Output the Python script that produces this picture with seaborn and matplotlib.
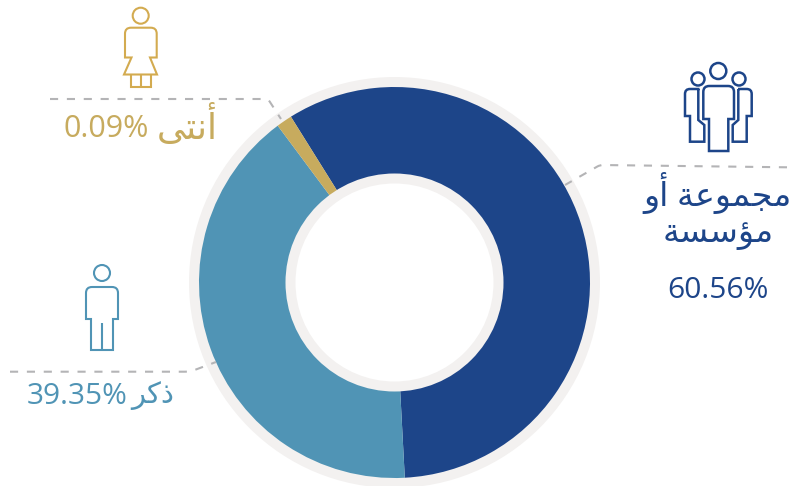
# Import necessary libraries
import matplotlib
matplotlib.use('Agg')
import matplotlib.pyplot as plt
import seaborn as sns
from matplotlib.patches import Circle, PathPatch
from matplotlib.path import Path

# Slice sizes as drawn in the picture (they differ from the printed labels)
categories = ['group', 'male', 'female']
drawn_shares = [58.05, 40.65, 1.3]
printed_labels = ['60.56%', '39.35%', '0.09%']

# Arabic labels in shaped presentation forms, visual order (matplotlib has no shaping)
label_group_1 = '\uFEED\uFE83 \uFE94\uFECB\uFEEE\uFEE4\uFEA0\uFEE3'  # majmoua aw
label_group_2 = '\uFE94\uFEB4\uFEB3\uFE86\uFEE3'  # muassasa
label_male = '\uFEAE\uFEDB\uFEAB'  # dhakar
label_female = '\uFEF0\uFE98\uFEE7\uFE83'  # untha

DARK = '#1d4589'
BLUE = '#5094b5'
GOLD = '#c7ab5e'
ICON_GOLD = '#d3ab50'
RING = '#f3f1f0'
DASH = '#b4b4b6'
HEIGHT = 486

sns.set_theme(style='white')
plt.rcParams['font.family'] = ['Open Sans', 'DejaVu Sans']


# Function to build a stroke path from pixel points, (x, y, r) rounds that corner
def stroke(ax, points, color, lw=1.5, closed=False, dashes=None):
    verts, codes = [], []
    n = len(points)
    for i, p in enumerate(points):
        x, y = p[0], HEIGHT - p[1]
        r = p[2] if len(p) > 2 else 0
        if r == 0 or i == 0 or i == n - 1:
            verts.append((x, y))
            codes.append(Path.MOVETO if i == 0 else Path.LINETO)
            continue
        for q, first in ((points[i - 1], True), (points[i + 1], False)):
            dx, dy = q[0] - x, HEIGHT - q[1] - y
            d = (dx * dx + dy * dy) ** 0.5
            end = (x + dx / d * r, y + dy / d * r)
            if first:
                verts.append(end)
                codes.append(Path.LINETO)
                verts.append((x, y))
                codes.append(Path.CURVE3)
            else:
                verts.append(end)
                codes.append(Path.CURVE3)
    if closed:
        verts.append(verts[0])
        codes.append(Path.CLOSEPOLY)
    patch = PathPatch(Path(verts, codes), fill=False, edgecolor=color, linewidth=lw,
                      joinstyle='miter', capstyle='butt')
    if dashes:
        patch.set_linestyle((0, dashes))
    ax.add_patch(patch)


# Function to draw a head circle
def head(ax, x, y, r, color, lw=1.5):
    ax.add_patch(Circle((x, HEIGHT - y), r, fill=False, edgecolor=color, linewidth=lw))


# Function for the three person icons
def draw_icons(ax):
    # male
    head(ax, 102, 273, 8, BLUE)
    stroke(ax, [(91, 350), (91, 319), (86, 319), (86, 287, 6), (118, 287, 6), (118, 319),
                (113, 319), (113, 350)], BLUE, closed=True)
    stroke(ax, [(102, 323), (102, 350)], BLUE)

    # female
    head(ax, 140.7, 15.7, 8, ICON_GOLD)
    stroke(ax, [(131.5, 57.5), (125, 57.5), (125, 27.7, 6), (156.7, 27.7, 6), (156.7, 57.5),
                (150, 57.5), (157, 74.5), (124, 74.5)], ICON_GOLD, closed=True)
    stroke(ax, [(130.7, 74.5), (130.7, 86.7), (150.7, 86.7), (150.7, 74.5)], ICON_GOLD)
    stroke(ax, [(140.7, 74.5), (140.7, 86.7)], ICON_GOLD)

    # group
    head(ax, 718.3, 71, 8, DARK, 1.8)
    head(ax, 698, 79, 6.5, DARK, 1.8)
    head(ax, 739, 79, 6.5, DARK, 1.8)
    stroke(ax, [(709, 151), (709, 119), (703.3, 119), (703.3, 86, 6), (734, 86, 6), (734, 119),
                (728.3, 119), (728.3, 151)], DARK, 1.8, closed=True)
    stroke(ax, [(699.5, 89), (685, 89, 5), (685, 116), (690, 116), (690, 141.7), (704.3, 141.7),
                (704.3, 125), (698.3, 120), (698.3, 89)], DARK, 1.8)
    stroke(ax, [(738, 89), (751.7, 89, 5), (751.7, 116), (746.7, 116), (746.7, 141.7),
                (732.7, 141.7), (732.7, 125), (738.3, 120), (738.3, 89)], DARK, 1.8)


# Function for the dashed leader lines
def draw_leaders(ax):
    dashes = (3.9, 4.2)
    stroke(ax, [(787, 167.3), (600, 165, 3), (565, 185)], DASH, 1.5, dashes=dashes)
    stroke(ax, [(50, 99), (268, 99, 3), (281, 119)], DASH, 1.5, dashes=dashes)
    stroke(ax, [(10, 371.7), (190, 371.7, 5), (216, 362)], DASH, 1.5, dashes=dashes)


# Function for the text labels
def draw_labels(ax):
    ax.text(718, HEIGHT - 193, label_group_1, color=DARK, fontsize=24, ha='center', va='center')
    ax.text(718, HEIGHT - 234, label_group_2, color=DARK, fontsize=24, ha='center', va='center')
    ax.text(718, HEIGHT - 290, printed_labels[0], color=DARK, fontsize=21.5, ha='center', va='center')
    ax.text(77, HEIGHT - 397, printed_labels[1], color=BLUE, fontsize=21.5, ha='center', va='center')
    ax.text(153, HEIGHT - 396, label_male, color=BLUE, fontsize=21, ha='center', va='center')
    ax.text(106, HEIGHT - 129, printed_labels[2], color=GOLD, fontsize=22, ha='center', va='center')
    ax.text(187, HEIGHT - 127, label_female, color=GOLD, fontsize=26, ha='center', va='center')


# Main function
def main():
    fig = plt.figure(figsize=(7.94, 4.86), dpi=100)
    ax = fig.add_axes([0, 0, 1, 1])

    cx, cy = 394.5, HEIGHT - 282.5
    palette = sns.color_palette([DARK, BLUE, GOLD])

    # Grey outer disc behind the donut
    ax.add_patch(Circle((cx, cy), 205.5, facecolor=RING, edgecolor='none', zorder=0))
    ax.pie(drawn_shares, colors=palette, startangle=122, counterclock=False, center=(cx, cy),
           radius=195.5, wedgeprops={'width': 195.5 - 105, 'linewidth': 0})

    # Grey ring and white hole
    ax.add_patch(Circle((cx, cy), 109, facecolor=RING, edgecolor='none', zorder=3))
    ax.add_patch(Circle((cx, cy), 99, facecolor='white', edgecolor='none', zorder=4))

    draw_icons(ax)
    draw_leaders(ax)
    draw_labels(ax)

    ax.set_xlim(0, 794)
    ax.set_ylim(0, HEIGHT)
    ax.set_aspect('equal')
    ax.axis('off')
    fig.savefig('out.png', dpi=100, facecolor='white')


# Start the program
if __name__ == '__main__':
    main()
